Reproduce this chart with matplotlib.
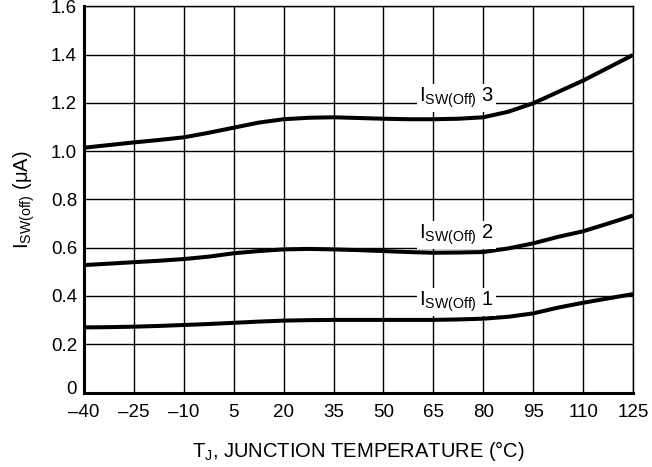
import numpy as np
import matplotlib.pyplot as plt
from matplotlib.transforms import ScaledTranslation

plt.rcParams['font.family'] = ['Liberation Sans', 'DejaVu Sans']

# junction temperature (C) and off-state switch current (uA)
temps = [-40, -32.5, -25, -17.5, -10, -2.5, 5, 12.5, 20, 27.5, 35, 42.5,
         50, 57.5, 65, 72.5, 80, 87.5, 95, 102.5, 110, 117.5, 125]
isw1 = [0.270, 0.271, 0.273, 0.276, 0.280, 0.284, 0.289, 0.294, 0.298, 0.300, 0.301, 0.301,
        0.301, 0.301, 0.301, 0.303, 0.306, 0.314, 0.328, 0.352, 0.372, 0.390, 0.408]
isw2 = [0.528, 0.534, 0.540, 0.546, 0.553, 0.563, 0.577, 0.586, 0.593, 0.595, 0.593, 0.590,
        0.586, 0.582, 0.579, 0.580, 0.582, 0.597, 0.618, 0.645, 0.668, 0.700, 0.733]
isw3 = [1.014, 1.025, 1.036, 1.046, 1.057, 1.076, 1.097, 1.118, 1.132, 1.138, 1.140, 1.137,
        1.134, 1.132, 1.132, 1.134, 1.140, 1.163, 1.198, 1.245, 1.292, 1.345, 1.398]
x_ticks = [-40, -25, -10, 5, 20, 35, 50, 65, 80, 95, 110, 125]
x_tick_labels = ['–40', '–25', '–10', '5', '20', '35', '50', '65', '80', '95', '110', '125']
y_ticks = [0, 0.2, 0.4, 0.6, 0.8, 1.0, 1.2, 1.4, 1.6]
y_tick_labels = ['0', '0.2', '0.4', '0.6', '0.8', '1.0', '1.2', '1.4', '1.6']

fig = plt.figure(figsize=(6.52, 4.67), dpi=100)
ax = fig.add_axes([84 / 652, 1 - 392.6 / 467, 549 / 652, 386.4 / 467])

for y in (isw1, isw2, isw3):
    ax.plot(temps, y, color='black', lw=2.9, solid_capstyle='butt', zorder=3)

# curve labels sit on white boxes that hide the grid
labels = [(0.376, '1'), (0.653, '2'), (1.22, '3')]
for yv, n in labels:
    ax.text(72, yv, r'I$_{\mathregular{SW(Off)}}$ ' + n, fontsize=14.5, ha='center', va='center',
            bbox=dict(facecolor='white', edgecolor='none', pad=1.5), zorder=4)

ax.set_xlim(-40, 125)
ax.set_ylim(0, 1.6)
ax.set_xticks(x_ticks)
ax.set_xticklabels(x_tick_labels)
ax.set_yticks(y_ticks)
ax.set_yticklabels(y_tick_labels)
ax.tick_params(length=0, labelsize=13.5)
ax.tick_params(axis='x', pad=8)
ax.tick_params(axis='y', pad=5)
ax.grid(True, color='black', lw=1.0, zorder=1)
ax.set_axisbelow(True)

# the "0" sits a little above the axis line
zero = ax.get_yticklabels()[0]
zero.set_transform(zero.get_transform() + ScaledTranslation(0, 4 / 72, fig.dpi_scale_trans))

for s in ('top', 'right'):
    ax.spines[s].set_linewidth(1.0)
for s in ('left', 'bottom'):
    ax.spines[s].set_linewidth(2.2)

ax.set_xlabel(r'T$_{\mathregular{J}}$, JUNCTION TEMPERATURE (°C)', fontsize=14.5, labelpad=13)
ax.set_ylabel(r'I$_{\mathregular{SW(off)}}$ (μA)', fontsize=14.5, labelpad=10)

fig.savefig('out.png', dpi=100)
